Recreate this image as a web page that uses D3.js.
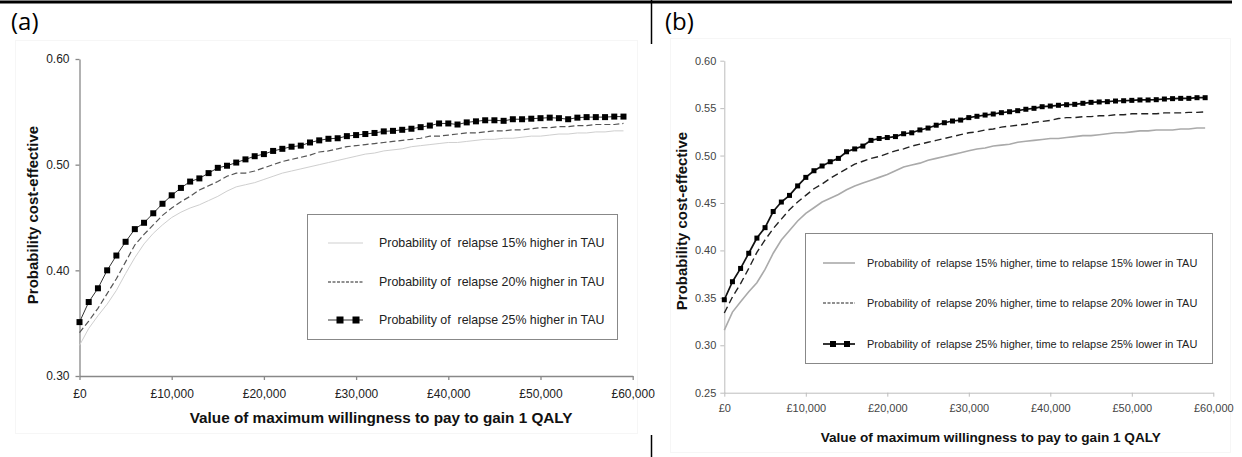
<!DOCTYPE html>
<html>
<head>
<meta charset="utf-8">
<script src="https://cdn.jsdelivr.net/npm/d3@7"></script>
<style>
  body { margin: 0; background: #fff; }
  svg { display: block; }
</style>
</head>
<body>
<div id="myDiv"></div>
<script>
//Willingness to pay thresholds, one point every £1,000
var wtp = d3.range(0, 60000, 1000);

//Panel (a) - probability of relapse higher in TAU
var a15 = [0.329,0.345,0.357,0.368,0.381,0.397,0.412,0.425,0.435,0.443,0.450,0.455,0.459,0.462,0.466,0.470,0.475,0.479,0.481,0.483,
  0.486,0.489,0.492,0.494,0.496,0.498,0.500,0.502,0.504,0.506,0.508,0.510,0.511,0.513,0.514,0.515,0.517,0.518,0.519,0.520,
  0.521,0.521,0.522,0.523,0.524,0.524,0.525,0.525,0.526,0.527,0.527,0.528,0.529,0.529,0.530,0.530,0.531,0.531,0.532,0.532];
var a20 = [0.341,0.352,0.364,0.378,0.392,0.408,0.424,0.434,0.443,0.452,0.459,0.465,0.470,0.476,0.480,0.484,0.489,0.492,0.492,0.494,
  0.497,0.500,0.503,0.505,0.507,0.509,0.512,0.513,0.515,0.517,0.518,0.519,0.520,0.521,0.522,0.523,0.524,0.525,0.527,0.527,
  0.528,0.529,0.530,0.530,0.531,0.532,0.532,0.533,0.533,0.534,0.535,0.535,0.536,0.536,0.537,0.537,0.538,0.538,0.538,0.539];
var a25 = [0.351,0.370,0.383,0.400,0.414,0.427,0.439,0.445,0.454,0.463,0.471,0.478,0.484,0.487,0.492,0.497,0.499,0.502,0.505,0.508,
  0.510,0.513,0.515,0.517,0.518,0.521,0.523,0.5245,0.525,0.527,0.528,0.529,0.530,0.5315,0.532,0.533,0.534,0.5355,0.537,0.539,
  0.539,0.538,0.540,0.541,0.542,0.542,0.5415,0.543,0.543,0.5435,0.544,0.5445,0.544,0.543,0.5445,0.545,0.545,0.545,0.5455,0.5455];

//Panel (b) - probability higher and time to relapse lower in TAU
var b15 = [0.316,0.335,0.346,0.3565,0.366,0.380,0.397,0.411,0.421,0.431,0.439,0.445,0.451,0.455,0.459,0.464,0.468,0.471,0.474,0.477,
  0.480,0.484,0.488,0.490,0.492,0.495,0.497,0.499,0.501,0.503,0.505,0.507,0.508,0.510,0.511,0.512,0.514,0.515,0.516,0.517,
  0.518,0.518,0.519,0.520,0.521,0.521,0.522,0.523,0.524,0.524,0.525,0.526,0.526,0.527,0.527,0.527,0.528,0.528,0.529,0.529];
var b20 = [0.334,0.351,0.365,0.381,0.398,0.411,0.423,0.433,0.443,0.451,0.458,0.465,0.470,0.476,0.481,0.486,0.491,0.494,0.497,0.499,
  0.502,0.505,0.507,0.510,0.512,0.514,0.516,0.518,0.520,0.522,0.524,0.525,0.527,0.528,0.530,0.531,0.532,0.533,0.535,0.536,
  0.537,0.539,0.540,0.540,0.541,0.541,0.542,0.542,0.543,0.543,0.544,0.544,0.544,0.544,0.545,0.545,0.545,0.5455,0.5455,0.546];
var b25 = [0.348,0.367,0.381,0.397,0.413,0.424,0.441,0.451,0.458,0.468,0.477,0.484,0.489,0.4935,0.497,0.504,0.507,0.510,0.516,0.518,
  0.519,0.520,0.523,0.524,0.527,0.529,0.532,0.5346,0.5364,0.5374,0.540,0.5414,0.5427,0.5438,0.5452,0.5462,0.5473,0.5488,0.5498,0.5515,
  0.5522,0.553,0.5536,0.554,0.5551,0.5561,0.5565,0.5568,0.5575,0.5578,0.5582,0.5586,0.5586,0.5589,0.5596,0.560,0.5603,0.5603,0.561,0.561];

//Tick values and labels
var xTicks = [0, 10000, 20000, 30000, 40000, 50000, 60000];
var aYTicks = [0.30, 0.40, 0.50, 0.60];
var bYTicks = [0.25, 0.30, 0.35, 0.40, 0.45, 0.50, 0.55, 0.60];
var aLegend = ["Probability of  relapse 15% higher in TAU",
               "Probability of  relapse 20% higher in TAU",
               "Probability of  relapse 25% higher in TAU"];
var bLegend = ["Probability of  relapse 15% higher, time to relapse 15% lower in TAU",
               "Probability of  relapse 20% higher, time to relapse 20% lower in TAU",
               "Probability of  relapse 25% higher, time to relapse 25% lower in TAU"];
var xTitle = "Value of maximum willingness to pay to gain 1 QALY";
var yTitle = "Probability cost-effective";

var w = 1242;
var h = 457;
var font = "'Liberation Sans', Arial, sans-serif";

var svg = d3.select("#myDiv")
    .append("svg")
    .attr("width", w)
    .attr("height", h);

//Faint chart area frames
svg.append("rect").attr("x", 15.5).attr("y", 40.5).attr("width", 622).attr("height", 393)
  .attr("fill", "none").attr("stroke", "#f6f6f6");
svg.append("rect").attr("x", 670.5).attr("y", 38.5).attr("width", 560).attr("height", 414)
  .attr("fill", "none").attr("stroke", "#f6f6f6");

//Table rules
svg.append("line").attr("x1", 0).attr("x2", 1232).attr("y1", 2).attr("y2", 2)
  .attr("stroke", "#000").attr("stroke-width", 3);
svg.append("line").attr("x1", 651.5).attr("x2", 651.5).attr("y1", 0).attr("y2", 44)
  .attr("stroke", "#000").attr("stroke-width", 1.5);
svg.append("line").attr("x1", 651.5).attr("x2", 651.5).attr("y1", 435).attr("y2", 457)
  .attr("stroke", "#000").attr("stroke-width", 1.5);

svg.append("text").attr("x", 11).attr("y", 30).text("(a)")
  .attr("font-family", "'Open Sans', sans-serif").attr("font-size", 24).attr("fill", "#000");
svg.append("text").attr("x", 665).attr("y", 30).text("(b)")
  .attr("font-family", "'Open Sans', sans-serif").attr("font-size", 24).attr("fill", "#000");

function drawPanel(p) {
  var x = d3.scaleLinear().domain([0, 60000]).range([p.x0, p.x1]);
  var y = d3.scaleLinear().domain(p.yDomain).range([p.y0, p.y1]);
  var g = svg.append("g");

  //Axes
  var yAxis = g.append("g")
    .attr("transform", "translate(" + p.x0 + ",0)")
    .call(d3.axisLeft(y).tickValues(p.yTicks).tickFormat(d3.format(".2f")).tickSize(4).tickSizeOuter(0));
  var xAxis = g.append("g")
    .attr("transform", "translate(0," + p.y0 + ")")
    .call(d3.axisBottom(x).tickValues(xTicks).tickFormat(function(d) { return "£" + d3.format(",")(d); })
      .tickSize(4).tickSizeOuter(0));
  [yAxis, xAxis].forEach(function(ax) {
    ax.select(".domain").attr("stroke", p.axisColor).attr("stroke-width", p.axisWidth);
    ax.selectAll(".tick line").attr("stroke", p.axisColor).attr("stroke-width", p.axisWidth);
    ax.selectAll(".tick text")
      .attr("font-family", font)
      .attr("font-size", p.tickSize)
      .attr("fill", p.tickColor);
  });
  yAxis.selectAll(".tick text").attr("x", p.yLabelDx);
  xAxis.selectAll(".tick text").attr("y", p.xLabelDy);

  //Axis titles
  g.append("text")
    .attr("x", (p.x0 + p.x1) / 2 + p.xTitleShift)
    .attr("y", p.xTitleY)
    .attr("text-anchor", "middle")
    .attr("font-family", font).attr("font-weight", "bold")
    .attr("font-size", p.xTitleSize).attr("fill", "#111")
    .text(xTitle);
  g.append("text")
    .attr("transform", "translate(" + p.yTitleX + "," + p.yTitleY + ") rotate(-90)")
    .attr("text-anchor", "middle")
    .attr("font-family", font).attr("font-weight", "bold")
    .attr("font-size", p.yTitleSize).attr("fill", "#111")
    .text(yTitle);

  var line = d3.line()
    .x(function(d, i) { return x(wtp[i]); })
    .y(function(d) { return y(d); });

  //15% series - light solid
  g.append("path").datum(p.s15).attr("d", line)
    .attr("fill", "none").attr("stroke", p.c15).attr("stroke-width", p.w15);
  //20% series - dashed
  g.append("path").datum(p.s20).attr("d", line)
    .attr("fill", "none").attr("stroke", p.c20).attr("stroke-width", p.w20)
    .attr("stroke-dasharray", p.dash20);
  //25% series - line with square markers
  g.append("path").datum(p.s25).attr("d", line)
    .attr("fill", "none").attr("stroke", p.c25).attr("stroke-width", p.w25);
  g.selectAll("rect.mk")
    .data(p.s25)
    .enter()
    .append("rect")
    .attr("class", "mk")
    .attr("x", function(d, i) { return x(wtp[i]) - p.mk / 2; })
    .attr("y", function(d) { return y(d) - p.mk / 2; })
    .attr("width", p.mk)
    .attr("height", p.mk)
    .attr("fill", "#000");

  //Legend
  var L = p.legend;
  g.append("rect")
    .attr("x", L.x).attr("y", L.y).attr("width", L.w).attr("height", L.h)
    .attr("fill", "#fff").attr("stroke", "#888").attr("stroke-width", 1);
  p.legendText.forEach(function(t, i) {
    var ly = L.rows[i];
    var sample = g.append("line")
      .attr("x1", L.sx0).attr("x2", L.sx1).attr("y1", ly).attr("y2", ly)
      .attr("stroke", [p.c15, "#222", p.c25][i])
      .attr("stroke-width", [p.w15, 1.2, p.w25][i]);
    if (i == 1) sample.attr("stroke-dasharray", "3,1.5");
    if (i == 2) {
      [L.m0, L.m1].forEach(function(mx) {
        g.append("rect").attr("x", mx - p.mk / 2 - 0.5).attr("y", ly - p.mk / 2 - 0.5)
          .attr("width", p.mk + 1).attr("height", p.mk + 1).attr("fill", "#000");
      });
    }
    g.append("text")
      .attr("x", L.tx).attr("y", ly)
      .attr("dy", "0.35em")
      .attr("font-family", font)
      .attr("font-size", L.fs)
      .attr("fill", "#222")
      .style("white-space", "pre")
      .text(t);
  });
}

drawPanel({
  x0: 79.5, x1: 632.7, y0: 376, y1: 59, yDomain: [0.30, 0.60], yTicks: aYTicks,
  axisColor: "#888", axisWidth: 1.3, tickSize: 12, tickColor: "#222", xLabelDy: 13, yLabelDx: -10,
  xTitleSize: 15.3, yTitleSize: 15, xTitleY: 423, xTitleShift: 25, yTitleX: 38, yTitleY: 215,
  s15: a15, s20: a20, s25: a25,
  c15: "#cfcfcf", w15: 1, c20: "#555", w20: 1.2, dash20: "6,3",
  c25: "#333", w25: 1, mk: 6,
  legend: { x: 307.5, y: 214.5, w: 310, h: 125, rows: [243, 282, 320],
            sx0: 328, sx1: 363, m0: 340, m1: 356, tx: 379, fs: 12.4 },
  legendText: aLegend
});

drawPanel({
  x0: 724.3, x1: 1213.3, y0: 392.7, y1: 60.7, yDomain: [0.25, 0.60], yTicks: bYTicks,
  axisColor: "#bdbdbd", axisWidth: 1, tickSize: 11, tickColor: "#444", xLabelDy: 12, yLabelDx: -8,
  xTitleSize: 13.6, yTitleSize: 15, xTitleY: 442, xTitleShift: 22, yTitleX: 687, yTitleY: 221,
  s15: b15, s20: b20, s25: b25,
  c15: "#aaa", w15: 1.6, c20: "#222", w20: 1.4, dash20: "7,4",
  c25: "#111", w25: 1.7, mk: 5,
  legend: { x: 805.5, y: 233.5, w: 407, h: 130, rows: [263, 303, 344],
            sx0: 823, sx1: 855, m0: 833, m1: 847, tx: 867, fs: 10.95 },
  legendText: bLegend
});
</script>
</body>
</html>
